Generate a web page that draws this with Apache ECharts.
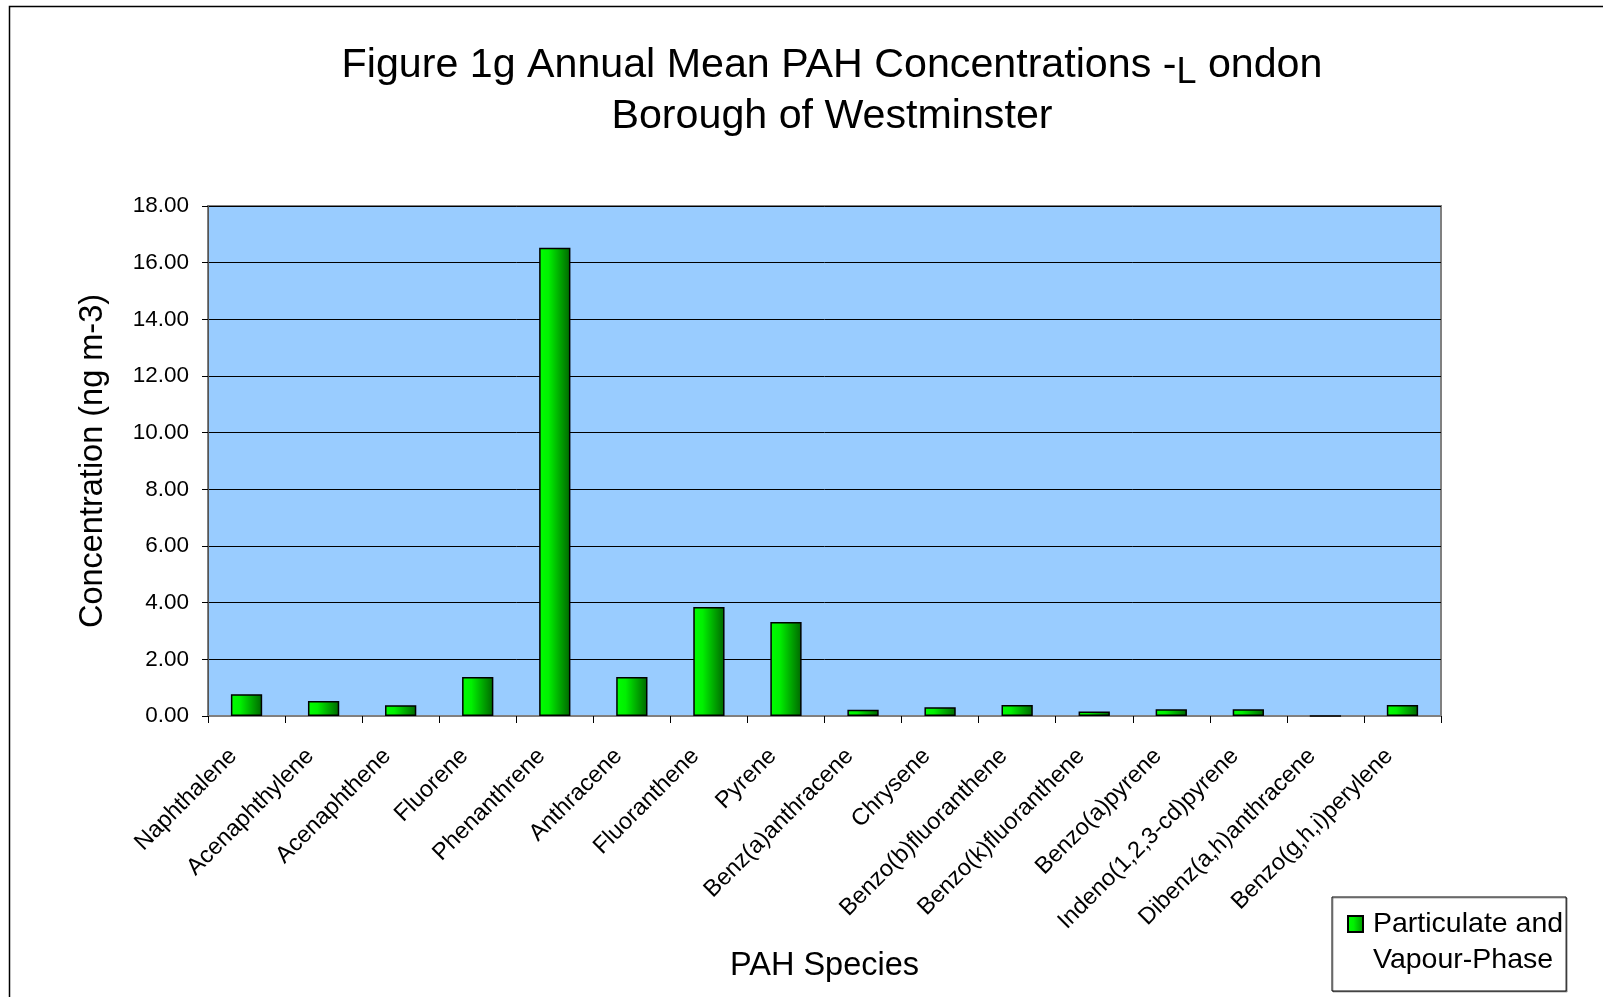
<!DOCTYPE html>
<html>
<head>
<meta charset="utf-8">
<title>Annual Mean PAH Concentrations</title>
<script src="https://cdn.jsdelivr.net/npm/echarts@6/dist/echarts.min.js"></script>
<style>
  html, body { margin: 0; padding: 0; background: #fff; }
  #chart { width: 1603px; height: 997px; }
</style>
</head>
<body>
<div id="chart"></div>
<script>
// PAH species along the category axis
const categories = [
  'Naphthalene', 'Acenaphthylene', 'Acenaphthene', 'Fluorene', 'Phenanthrene',
  'Anthracene', 'Fluoranthene', 'Pyrene', 'Benz(a)anthracene', 'Chrysene',
  'Benzo(b)fluoranthene', 'Benzo(k)fluoranthene', 'Benzo(a)pyrene',
  'Indeno(1,2,3-cd)pyrene', 'Dibenz(a,h)anthracene', 'Benzo(g,h,i)perylene'
];

// Annual mean concentration, ng m-3
const concentrations = [
  0.77, 0.53, 0.38, 1.38, 16.53,
  1.38, 3.85, 3.32, 0.22, 0.31,
  0.39, 0.16, 0.24,
  0.24, 0, 0.39
];

const seriesName = 'Particulate and\nVapour-Phase';

// Value axis range and tick step
const yMin = 0;
const yMax = 18;
const yStep = 2;

const FONT = "'Liberation Sans', Arial, sans-serif";

const barFill = {
  type: 'linear', x: 0, y: 0, x2: 1, y2: 0,
  colorStops: [
    { offset: 0, color: '#00ff00' },
    { offset: 0.3, color: '#00f000' },
    { offset: 0.6, color: '#00b400' },
    { offset: 1, color: '#006600' }
  ]
};

const chart = echarts.init(document.getElementById('chart'), null, { renderer: 'canvas' });

chart.setOption({
  backgroundColor: '#ffffff',
  animation: false,
  title: {
    text: '{t|Figure 1g Annual Mean PAH Concentrations -}{s|L}{t| ondon}\n{t|Borough of Westminster}',
    left: 832,
    top: 40,
    textAlign: 'center',
    padding: 0,
    textStyle: {
      fontWeight: 'normal',
      rich: {
        t: { fontSize: 41.2, lineHeight: 51, fontWeight: 'normal', fontFamily: FONT, color: '#000' },
        s: { fontSize: 36, lineHeight: 36, padding: [16, 0, 0, 0], fontWeight: 'normal', fontFamily: FONT, color: '#000' }
      }
    }
  },
  graphic: [{
    type: 'rect',
    silent: true,
    z: -10,
    shape: { x: 9.5, y: 6.5, width: 1700, height: 1100 },
    style: { fill: 'none', stroke: '#000', lineWidth: 1.5 }
  }],
  legend: {
    left: 1332,
    top: 897,
    orient: 'vertical',
    padding: [9, 3, 13, 15],
    backgroundColor: '#fff',
    borderColor: '#000',
    borderWidth: 1,
    shadowColor: 'rgba(0,0,0,0.35)',
    shadowOffsetX: 1,
    shadowOffsetY: 1,
    icon: 'path://M0,0h15v16h-15zM20,52',
    itemWidth: 20,
    itemHeight: 52,
    selectedMode: false,
    textStyle: { fontSize: 28.5, lineHeight: 36, fontFamily: FONT, color: '#000' },
    data: [seriesName]
  },
  grid: {
    left: 208,
    top: 206,
    width: 1233,
    height: 510,
    show: true,
    backgroundColor: '#99ccff',
    borderColor: '#808080',
    borderWidth: 2
  },
  xAxis: {
    type: 'category',
    data: categories,
    name: 'PAH Species',
    nameLocation: 'middle',
    nameGap: 234,
    nameTextStyle: { fontSize: 32.5, fontFamily: FONT, color: '#000' },
    axisLine: { show: true, lineStyle: { color: '#808080', width: 2 } },
    axisTick: { show: true, length: 7, lineStyle: { color: '#000', width: 1 } },
    axisLabel: {
      interval: 0,
      rotate: 45,
      margin: 23,
      padding: [0, 19, 0, 0],
      fontSize: 23.5,
      fontFamily: FONT,
      color: '#000'
    },
    splitLine: { show: false }
  },
  yAxis: {
    type: 'value',
    min: yMin,
    max: yMax,
    interval: yStep,
    name: 'Concentration (ng m-3)',
    nameLocation: 'middle',
    nameGap: 98,
    nameTextStyle: { fontSize: 32.5, fontFamily: FONT, color: '#000' },
    axisLine: { show: true, lineStyle: { color: '#555', width: 1 } },
    axisTick: { show: true, length: 6, lineStyle: { color: '#000', width: 1 } },
    axisLabel: {
      margin: 19,
      fontSize: 22.5,
      fontFamily: FONT,
      color: '#000',
      formatter: v => v.toFixed(2)
    },
    splitLine: { show: true, lineStyle: { color: '#000', width: 1 } }
  },
  series: [{
    name: seriesName,
    type: 'bar',
    data: concentrations,
    barWidth: '40.6%',
    itemStyle: {
      color: barFill,
      borderColor: '#000',
      borderWidth: 1.5
    }
  }]
});
</script>
</body>
</html>
